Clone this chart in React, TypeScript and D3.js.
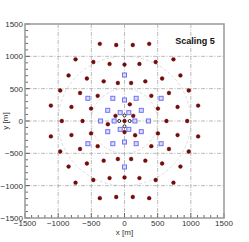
import React from "react";
import * as d3 from "d3";

const ticks = [-1500, -1000, -500, 0, 500, 1000, 1500];
const gridVals = [-1000, -500, 0, 500, 1000];
const circleRadii = [500, 1000];

// positive-quadrant red telescopes (mirrored to all quadrants)
const redQuadX = [125, 372, 0, 225, 470, 738, 100, 314, 567, 843, 404, 670, 969, 504, 800, 1110, 633, 945];
const redQuadY = [1175, 1193, 873, 882, 912, 954, 588, 613, 657, 704, 390, 433, 472, 192, 217, 238, 0, 0];
// central red telescopes
const redCenterX = [0, 80, -136, 132, -251, 0, 160];
const redCenterY = [0, 258, 80, 80, -50, -172, -220];
// blue squares (positive quadrant, mirrored)
const blueQuadX = [0, 552, 176, 0, 253, 65, 361, 156];
const blueQuadY = [711, 351, 351, 325, 165, 129, 0, 0];
// black open circles
const blackX = [0, -80, 78, 0];
const blackY = [85, 0, 0, -82];

function mirror(xs: number[], ys: number[]) {
  const out: [number, number][] = [];
  const seen = new Set<string>();
  xs.forEach((x, i) => {
    const y = ys[i];
    for (const sx of [1, -1]) for (const sy of [1, -1]) {
      const px = x * sx, py = y * sy;
      const k = `${px},${py}`;
      if (!seen.has(k)) { seen.add(k); out.push([px, py]); }
    }
  });
  return out;
}

export default function App() {
  const W = 249, H = 242;
  const x = d3.scaleLinear().domain([-1500, 1500]).range([25, 224]);
  const y = d3.scaleLinear().domain([-1500, 1500]).range([218, 24]);
  const minor = d3.range(-1500, 1501, 100);
  const reds = [...mirror(redQuadX, redQuadY), ...redCenterX.map((v, i) => [v, redCenterY[i]] as [number, number])];
  const blues = mirror(blueQuadX, blueQuadY);
  const blacks = blackX.map((v, i) => [v, blackY[i]] as [number, number]);
  const fmt = (v: number) => (v < 0 ? "\u2212" + Math.abs(v) : String(v));
  const font = "Liberation Sans, Arial, sans-serif";
  return (
    <svg width={W} height={H} style={{ position: "absolute", left: 0, top: 0, background: "#fff" }} fontFamily={font}>
      <rect x={x(-1500)} y={y(1500)} width={x(1500) - x(-1500)} height={y(-1500) - y(1500)} fill="#fff" />
      {circleRadii.map((r) => (
        <ellipse key={r} cx={x(0)} cy={y(0)} rx={x(r) - x(0)} ry={y(0) - y(r)} fill="none" stroke="#d4d4d4" strokeWidth={0.8} strokeDasharray="3,2" />
      ))}
      {gridVals.map((v) => (
        <g key={v}>
          <line x1={x(v)} x2={x(v)} y1={y(1500)} y2={y(-1500)} stroke="#aaa" strokeWidth={0.8} strokeDasharray="4,1.5,1,1.5" />
          <line x1={x(-1500)} x2={x(1500)} y1={y(v)} y2={y(v)} stroke="#aaa" strokeWidth={0.8} strokeDasharray="4,1.5,1,1.5" />
        </g>
      ))}
      {blues.map(([a, b], i) => (
        <rect key={"b" + i} x={x(a) - 2} y={y(b) - 2} width={4} height={4} fill="#dde" stroke="#6f6fff" strokeWidth={1} />
      ))}
      {blacks.map(([a, b], i) => (
        <circle key={"k" + i} cx={x(a)} cy={y(b)} r={1.5} fill="#fff" stroke="#222" strokeWidth={1} />
      ))}
      {reds.map(([a, b], i) => (
        <circle key={"r" + i} cx={x(a)} cy={y(b)} r={1.9} fill="#7a0a0a" stroke="#5a0000" strokeWidth={0.4} />
      ))}
      {minor.map((v) => {
        const major = v % 500 === 0;
        const L = major ? 5 : 3;
        return (
          <g key={"t" + v}>
            <line x1={x(v)} x2={x(v)} y1={y(-1500)} y2={y(-1500) - L} stroke="#444" strokeWidth={0.8} />
            <line x1={x(-1500)} x2={x(-1500) + L} y1={y(v)} y2={y(v)} stroke="#444" strokeWidth={0.8} />
          </g>
        );
      })}
      <rect x={x(-1500)} y={y(1500)} width={x(1500) - x(-1500)} height={y(-1500) - y(1500)} fill="none" stroke="#999" strokeWidth={1.5} />
      {ticks.map((v) => (
        <text key={"xl" + v} x={x(v)} y={226} fontSize={8} textAnchor="middle" fill="#333">{fmt(v)}</text>
      ))}
      {ticks.map((v) => (
        <text key={"yl" + v} x={23} y={y(v) + 3} fontSize={8} textAnchor="end" fill="#333">{fmt(v)}</text>
      ))}
      <text x={x(0)} y={235} fontSize={8} textAnchor="middle" fill="#333">x [m]</text>
      <text transform={`translate(8,${y(0)}) rotate(-90)`} fontSize={8} textAnchor="middle" fill="#333">y [m]</text>
      <text x={195} y={44} fontSize={9} fontWeight="bold" textAnchor="middle" fill="#111">Scaling 5</text>
    </svg>
  );
}
